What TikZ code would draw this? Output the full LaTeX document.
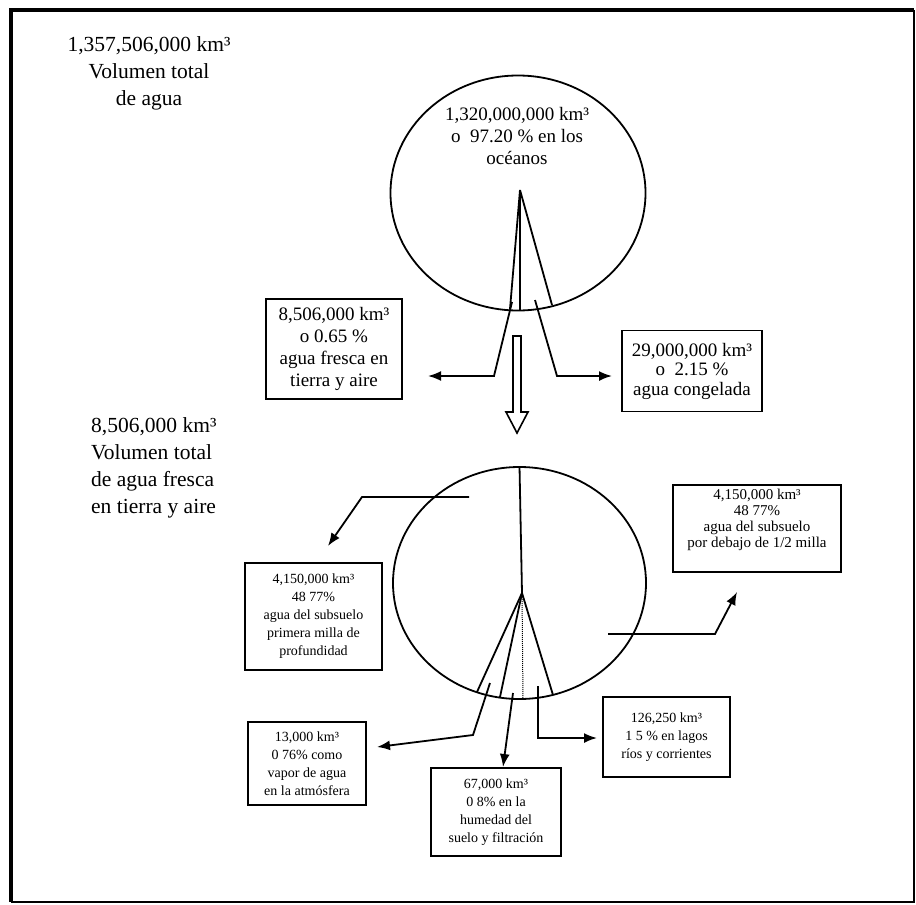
\documentclass[tikz,border=0pt]{standalone}
\usepackage{fontspec}
\setmainfont{Liberation Serif}
\usetikzlibrary{arrows.meta,shapes.geometric}
\tikzset{
  lbl/.style={align=center, inner sep=0pt},
  bigtxt/.style={font=\fontsize{21.5pt}{27pt}\selectfont},
  midtxt/.style={font=\fontsize{19pt}{22pt}\selectfont},
  smalltxt/.style={font=\fontsize{14pt}{18pt}\selectfont},
  pie/.style={draw, ellipse, line width=1.8pt, inner sep=0pt},
  databox/.style={draw, line width=1.8pt, rectangle, align=center, inner sep=0pt},
  conn/.style={line width=1.8pt, -{Latex[length=13pt,width=10pt]}},
  sector/.style={line width=1.8pt},
}
\begin{document}
\begin{tikzpicture}[x=1pt,y=-1pt]
\useasboundingbox (0,0) rectangle (916,905);
% frame
\draw[line width=4pt] (913.5,10) -- (11,10) -- (11,902);
\draw[line width=2pt] (11,902) -- (913.5,902) -- (913.5,10);

% titles
\node[lbl,bigtxt] (tot) at (149,73) {1,357,506,000 km³\\Volumen total\\de agua};
\node[lbl,bigtxt,align=left,anchor=west] (fr) at (91,468) {8,506,000 km³\\Volumen total\\de agua fresca\\en tierra y aire};

% upper pie
\node[pie, minimum width=255pt, minimum height=235pt] (oc) at (518,193) {};
\node[lbl,midtxt] (octx) at (517,136) {1,320,000,000 km³\\o\ \ 97.20 \% en los\\océanos};
\coordinate (a1) at (520,190);
\draw[sector] (a1) -- (520,310);
\draw[sector] (a1) -- (510,309);
\draw[sector] (a1) -- (552,305);

% upper boxes
\node[databox,midtxt,minimum width=136pt,minimum height=100pt] (bl) at (334,349) {8,506,000 km³\\o 0.65 \%\\agua fresca en\\tierra y aire};
\node[databox,font=\fontsize{19pt}{19.5pt}\selectfont,minimum width=140pt,minimum height=81pt] (br) at (692,371) {29,000,000 km³\\o\ \ 2.15 \%\\agua congelada};

\coordinate (t1) at (428,376);
\coordinate (t2) at (612,376);
\draw[conn] (512,302) -- (494,376) -- (t1);
\draw[conn] (535,300) -- (557,376) -- (t2);

% hollow arrow
\draw[line width=1.6pt, fill=white, line join=miter] (513,336) -- (521,336) -- (521,412) -- (528,412) -- (517,433) -- (506,412) -- (513,412) -- cycle;

% lower pie
\node[pie, minimum width=253pt, minimum height=232pt] (lc) at (519.5,583) {};
\coordinate (a2) at (522,593);
\draw[sector] (lc.north) -- (a2);
\draw[sector] (a2) -- (477,692);
\draw[sector] (a2) -- (500,697);
\draw[sector] (a2) -- (553,695);
\draw[line width=1pt, densely dotted] (a2) -- (523,699);

% lower boxes
\node[databox,smalltxt,minimum width=137pt,minimum height=107pt] (bA) at (313.5,616.5) {4,150,000 km³\\48 77\%\\agua del subsuelo\\primera milla de\\profundidad};
\node[databox,minimum width=168pt,minimum height=87pt] (bB) at (757,528.5) {};
\node[lbl,font=\fontsize{15pt}{15.8pt}\selectfont] (bBt) at (757,520) {4,150,000 km³\\48 77\%\\agua del subsuelo\\por debajo de 1/2 milla};
\node[databox,smalltxt,minimum width=118pt,minimum height=83pt] (bC) at (307,763.5) {13,000 km³\\0 76\% como\\vapor de agua\\en la atmósfera};
\node[databox,smalltxt,minimum width=130pt,minimum height=88pt] (bD) at (496,812) {67,000 km³\\0 8\% en la\\humedad del\\suelo y filtración};
\node[databox,smalltxt,minimum width=127pt,minimum height=80pt] (bE) at (666.5,737) {126,250 km³\\1 5 \% en lagos\\ríos y corrientes};

% lower connectors
\coordinate (tA) at (328,546);
\coordinate (tB) at (737,592);
\coordinate (tC) at (377,747);
\coordinate (tD) at (503,767);
\coordinate (tE) at (597,738);
\draw[conn] (469,497) -- (362,497) -- (tA);
\draw[conn] (608,634) -- (715,634) -- (tB);
\draw[conn] (490,683) -- (473,735) -- (tC);
\draw[conn] (513,693) -- (tD);
\draw[conn] (538,686) -- (538,738) -- (tE);
\end{tikzpicture}
\end{document}
